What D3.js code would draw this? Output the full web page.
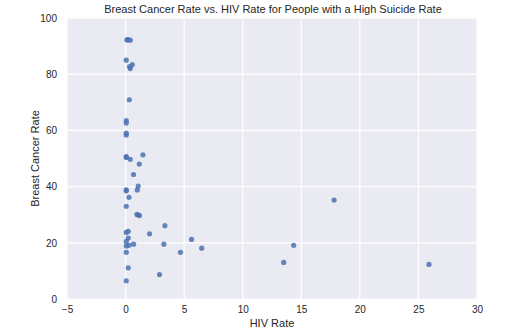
<!DOCTYPE html>
<html>
<head>
<meta charset="utf-8">
<script src="https://cdn.jsdelivr.net/npm/d3@7"></script>
<style>
  body { margin: 0; background: #fff; }
  text { font-family: "Liberation Sans", Arial, sans-serif; fill: #262626; }
</style>
</head>
<body>
<div class="chartBox"></div>
<script>
// values
var hivRate = [0.12, 0.2, 0.4, 0.06, 0.57, 0.34, 0.4, 0.32, 0.06, 0.06, 0.06, 0.06,
               0.06, 0.06, 0.4, 1.48, 1.17, 0.68, 1.08, 1.0, 0.06, 0.06, 0.29, 0.06,
               0.97, 1.08, 1.19, 3.36, 2.05, 0.06, 0.23, 0.23, 0.06, 5.63, 0.06, 0.29,
               0.68, 3.27, 6.5, 4.69, 0.06, 0.23, 2.9, 0.06, 14.35, 13.5, 17.8, 25.9];
var breastCancer = [92.2, 92.3, 92.1, 85.0, 83.4, 82.7, 82.0, 70.9, 63.5, 62.6, 59.0, 58.4,
                    50.7, 50.4, 49.7, 51.3, 48.0, 44.3, 40.2, 38.8, 38.8, 38.5, 36.2, 33.0,
                    30.1, 29.9, 29.7, 26.1, 23.2, 23.7, 24.1, 21.7, 20.5, 21.2, 18.9, 19.1,
                    19.5, 19.5, 18.1, 16.6, 16.6, 11.1, 8.7, 6.5, 19.1, 13.0, 35.2, 12.3];
var xTicks = [-5, 0, 5, 10, 15, 20, 25, 30];
var yTicks = [0, 20, 40, 60, 80, 100];

var w = 511, h = 336;
var padL = 67, padR = 477, padT = 18, padB = 299;

var canvas = d3.select('.chartBox')
  .append('svg')
  .attr('width', w)
  .attr('height', h);

var x = d3.scaleLinear().domain([-5, 30]).range([padL, padR]);
var y = d3.scaleLinear().domain([0, 100]).range([padB, padT]);

canvas.append('rect')
  .attr('x', padL).attr('y', padT)
  .attr('width', padR - padL).attr('height', padB - padT)
  .attr('fill', '#eaeaf2');

// grid
canvas.selectAll('.vgrid')
  .data(xTicks)
  .enter()
  .append('line')
  .attr('class', 'vgrid')
  .attr('x1', function(d){ return x(d); })
  .attr('x2', function(d){ return x(d); })
  .attr('y1', padT).attr('y2', padB)
  .attr('stroke', '#fff').attr('stroke-width', 1.2);

canvas.selectAll('.hgrid')
  .data(yTicks)
  .enter()
  .append('line')
  .attr('class', 'hgrid')
  .attr('y1', function(d){ return y(d); })
  .attr('y2', function(d){ return y(d); })
  .attr('x1', padL).attr('x2', padR)
  .attr('stroke', '#fff').attr('stroke-width', 1.2);

// axes
var xAxis = canvas.append('g')
  .attr('transform', 'translate(0,' + padB + ')')
  .call(d3.axisBottom(x).tickValues(xTicks).tickSize(0).tickPadding(7)
    .tickFormat(function(d){ return d < 0 ? '\u2212' + Math.abs(d) : d; }));
xAxis.select('.domain').remove();
xAxis.selectAll('text').attr('font-size', 10);

var yAxis = canvas.append('g')
  .attr('transform', 'translate(' + padL + ',0)')
  .call(d3.axisLeft(y).tickValues(yTicks).tickSize(0).tickPadding(10));
yAxis.select('.domain').remove();
yAxis.selectAll('text').attr('font-size', 10);

// points
canvas.selectAll('circle')
  .data(hivRate)
  .enter()
  .append('circle')
  .attr('cx', function(d){ return x(d); })
  .attr('cy', function(d, i){ return y(breastCancer[i]); })
  .attr('r', 2.6)
  .attr('fill', '#4c72b0')
  .attr('fill-opacity', 0.85);

// labels
canvas.append('text')
  .attr('x', (padL + padR) / 2 + 1).attr('y', 13)
  .attr('text-anchor', 'middle')
  .attr('font-size', 11)
  .text('Breast Cancer Rate vs. HIV Rate for People with a High Suicide Rate');

canvas.append('text')
  .attr('x', (padL + padR) / 2).attr('y', 327)
  .attr('text-anchor', 'middle')
  .attr('font-size', 11)
  .text('HIV Rate');

canvas.append('text')
  .attr('transform', 'translate(39,' + ((padT + padB) / 2) + ') rotate(-90)')
  .attr('text-anchor', 'middle')
  .attr('font-size', 11)
  .text('Breast Cancer Rate');
</script>
</body>
</html>
